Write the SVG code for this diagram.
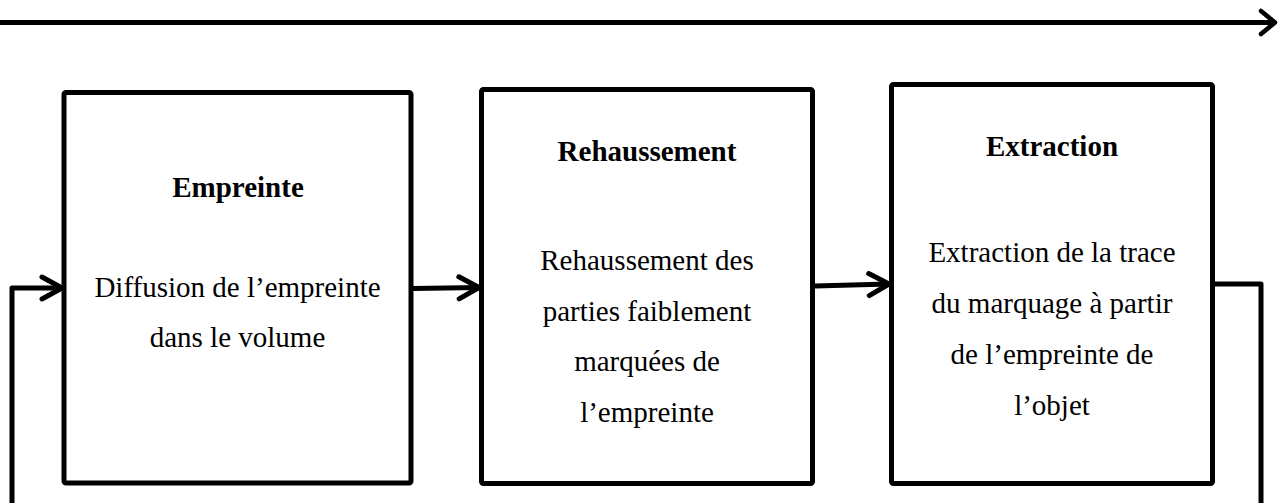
<svg xmlns="http://www.w3.org/2000/svg" width="1279" height="503" viewBox="0 0 1279 503">
  <style>
    .box { fill: #ffffff; stroke: #000000; stroke-width: 5; stroke-linejoin: round; }
    .link { fill: none; stroke: #000000; stroke-width: 5; stroke-linejoin: round; }
    .title { font-family: "Liberation Serif", "Times New Roman", serif; font-size: 29px; font-weight: bold; fill: #000000; text-anchor: middle; }
    .body { font-family: "Liberation Serif", "Times New Roman", serif; font-size: 29px; fill: #000000; text-anchor: middle; }
  </style>
  <defs>
    <marker id="chevron" markerUnits="userSpaceOnUse" markerWidth="30" markerHeight="30" refX="0" refY="0" viewBox="-25 -15 30 30" orient="auto" overflow="visible">
      <path d="M-20,-11 L0,0 L-20,11" fill="none" stroke="#000000" stroke-width="5" stroke-linecap="round" stroke-linejoin="round"/>
    </marker>
    <marker id="chevron-small" markerUnits="userSpaceOnUse" markerWidth="30" markerHeight="30" refX="0" refY="0" viewBox="-25 -15 30 30" orient="auto" overflow="visible">
      <path d="M-14,-11.5 L0,0 L-14,11.5" fill="none" stroke="#000000" stroke-width="4.5" stroke-linecap="round" stroke-linejoin="round"/>
    </marker>
  </defs>
  <rect width="1279" height="503" fill="#ffffff"/>

  <g id="connectors">
    <!-- timeline arrow along the top -->
    <line class="link" x1="0" y1="22.5" x2="1275" y2="22.5" marker-end="url(#chevron-small)"/>
    <!-- stage to stage -->
    <line class="link" x1="413" y1="288.5" x2="479" y2="287.5" marker-end="url(#chevron)"/>
    <line class="link" x1="815" y1="286" x2="889" y2="284" marker-end="url(#chevron)"/>
    <!-- feedback loop -->
    <polyline class="link" points="1213,284 1261,284 1261,503"/>
    <polyline class="link" points="12,503 12,288 62,288" marker-end="url(#chevron)"/>
  </g>

  <g id="empreinte">
    <rect class="box" x="64" y="92.5" width="347" height="390.5" rx="2"/>
    <text class="title" x="238" y="196.5">Empreinte</text>
    <text class="body" x="237.5" y="296.5">Diffusion de l’empreinte</text>
    <text class="body" x="237.5" y="347">dans le volume</text>
  </g>

  <g id="rehaussement">
    <rect class="box" x="481.5" y="89.5" width="331" height="394" rx="2"/>
    <text class="title" x="647" y="160.5">Rehaussement</text>
    <text class="body" x="647" y="270">Rehaussement des</text>
    <text class="body" x="647" y="320.5">parties faiblement</text>
    <text class="body" x="647" y="371">marquées de</text>
    <text class="body" x="647" y="421.5">l’empreinte</text>
  </g>

  <g id="extraction">
    <rect class="box" x="891.5" y="84.5" width="321" height="399" rx="2"/>
    <text class="title" x="1052" y="156">Extraction</text>
    <text class="body" x="1052" y="261.5">Extraction de la trace</text>
    <text class="body" x="1052" y="312.5">du marquage à partir</text>
    <text class="body" x="1052" y="363.5">de l’empreinte de</text>
    <text class="body" x="1052" y="415">l’objet</text>
  </g>
</svg>
